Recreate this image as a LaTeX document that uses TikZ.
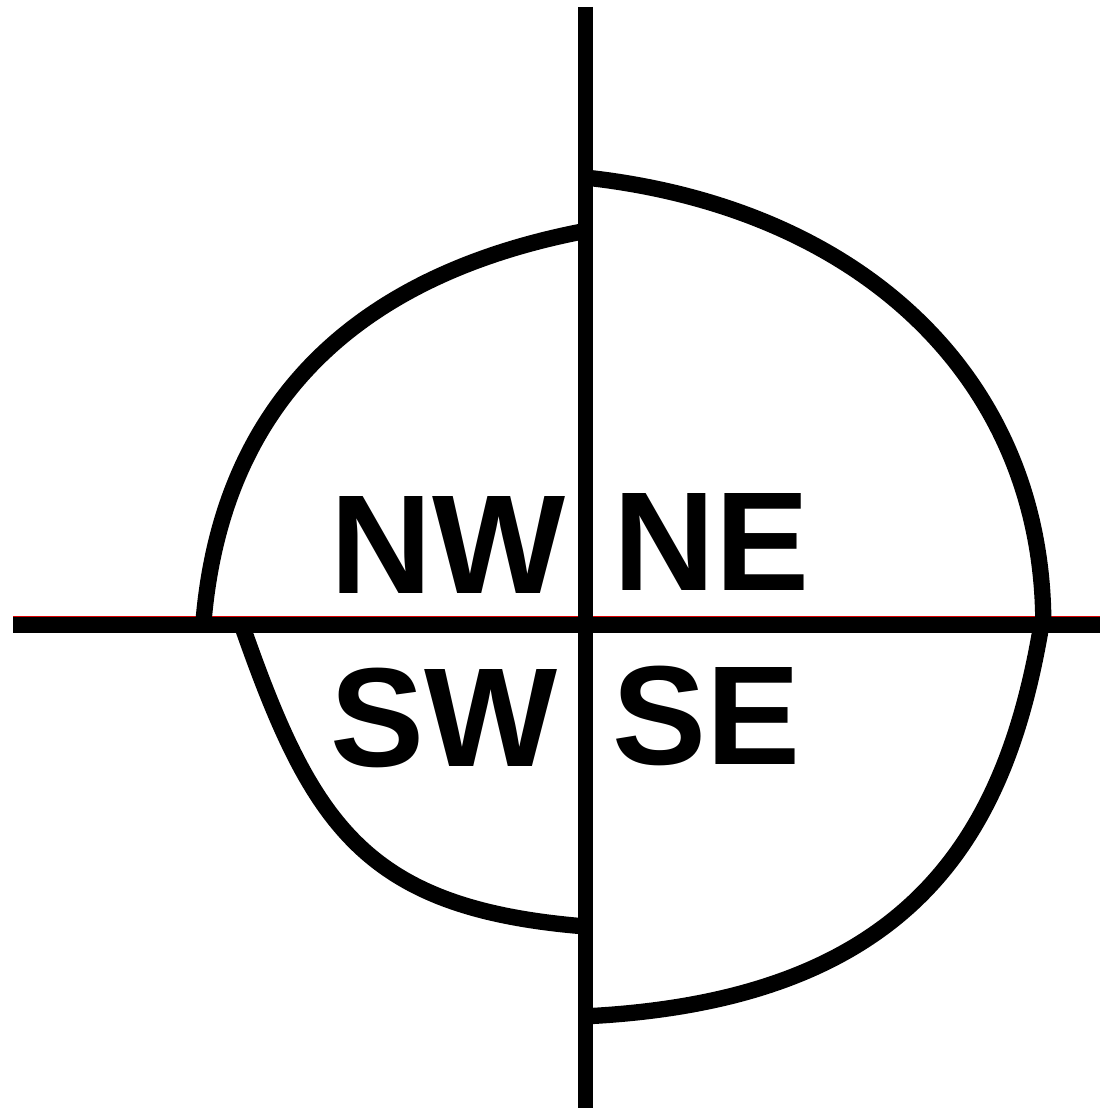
\documentclass[tikz,border=0pt]{standalone}
\usepackage{fontspec}
\setmainfont{Liberation Sans}
\begin{document}
\begin{tikzpicture}[x=1pt,y=-1pt,
  arcline/.style={line width=16.3pt},
  lbl/.style={inner sep=0pt, anchor=base, font=\fontsize{141}{141}\selectfont\bfseries}]
\useasboundingbox (0,0) rectangle (1100,1108);
% horizontal axis
\coordinate (hl) at (13,624.6);
\coordinate (hr) at (1100,624.6);
\draw[line width=16.4pt] (hl) -- (hr);
\coordinate (rl) at (13,616.2);
\coordinate (rr) at (1100,616.2);
\draw[red!85!black, line width=1.4pt] (rl) -- (rr);
% arc end points
\coordinate (nwA) at (586,230.8);
\coordinate (nwB) at (203.3,624);
\coordinate (neA) at (586,177.6);
\coordinate (neB) at (1043.3,624);
\coordinate (swA) at (241.5,624);
\coordinate (swB) at (586,926.5);
\coordinate (seA) at (1041.5,624);
\coordinate (seB) at (586,1016.3);
% quarter arcs
\draw[arcline] (nwA) .. controls (376.8,270.6) and (222.4,385.7) .. (nwB);
\draw[arcline] (neA) .. controls (865,208.2) and (1043.3,381.9) .. (neB);
\draw[arcline] (swA) .. controls (311.8,825.1) and (364.3,908.7) .. (swB);
\draw[arcline] (seA) .. controls (1006.4,833.8) and (913.2,999.9) .. (seB);
% vertical axis
\coordinate (vt) at (585.8,7);
\coordinate (vb) at (585.8,1108);
\draw[line width=15pt] (vt) -- (vb);
% labels
\node[lbl] (nw) at (447.8,593.3) {NW};
\node[lbl] (ne) at (711.8,590.7) {NE};
\node[lbl] (sw) at (443.8,766.5) {SW};
\node[lbl] (se) at (706.6,764) {SE};
\end{tikzpicture}
\end{document}
